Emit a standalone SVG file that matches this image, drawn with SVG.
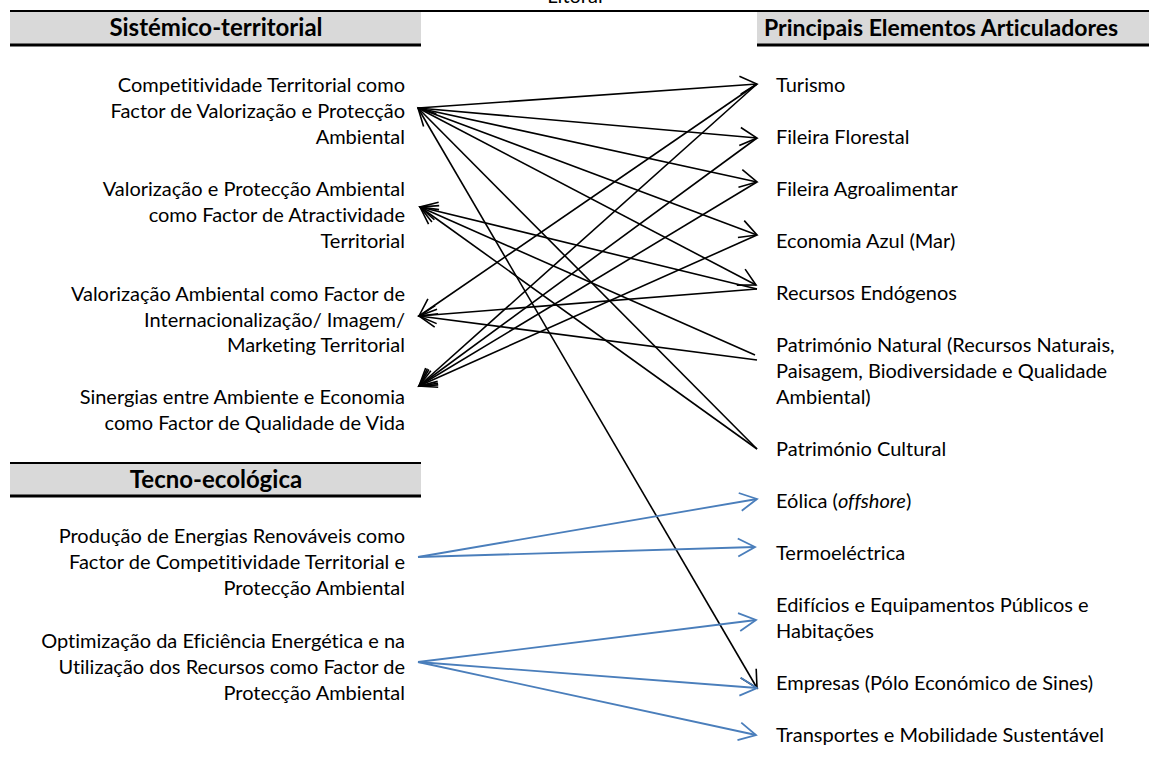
<svg xmlns="http://www.w3.org/2000/svg" width="1149" height="765" viewBox="0 0 1149 765">
<style>
  text { font-variant-ligatures: none; }
  .t { font-family: Lato, "Liberation Sans", sans-serif; font-size: 20px; fill: #000; }
  .l { text-anchor: end; }
  .h { font-family: Lato, "Liberation Sans", sans-serif; font-size: 24px; font-weight: bold; fill: #000; }
  .h2 { font-size: 23px; }
  .hbox { fill: #d9d9d9; }
  .hline { stroke: #000; stroke-width: 2; }
  .hline2 { stroke: #000; stroke-width: 3; }
  .k { stroke: #000; stroke-width: 1.6; fill: none; marker-end: url(#ak); }
  .b { stroke: #4a7ebb; stroke-width: 1.8; fill: none; marker-end: url(#ab); }
</style>
<defs>
  <marker id="ak" markerUnits="userSpaceOnUse" viewBox="-20 -11 22 22" markerWidth="22" markerHeight="22" refX="0" refY="0" orient="auto" overflow="visible">
    <path d="M-17,-9 L0,0 L-17,9" fill="none" stroke="#000" stroke-width="1.6"/>
  </marker>
  <marker id="ab" markerUnits="userSpaceOnUse" viewBox="-20 -11 22 22" markerWidth="22" markerHeight="22" refX="0" refY="0" orient="auto" overflow="visible">
    <path d="M-17,-9 L0,0 L-17,9" fill="none" stroke="#4a7ebb" stroke-width="1.8"/>
  </marker>
</defs>
<rect width="1149" height="765" fill="#fff"/>

<text class="t" x="575" y="3" text-anchor="middle">Litoral</text>
<line class="hline" x1="10" y1="11" x2="1149" y2="11"/>

<g id="header-sistemico">
  <rect class="hbox" x="10" y="12" width="411" height="33"/>
  <line class="hline2" x1="10" y1="45" x2="421" y2="45"/>
  <text class="h" x="216" y="36" text-anchor="middle">Sistémico-territorial</text>
</g>
<g id="header-principais">
  <rect class="hbox" x="757" y="12" width="392" height="33"/>
  <line class="hline2" x1="757" y1="45" x2="1149" y2="45"/>
  <text class="h h2" x="764" y="36">Principais Elementos Articuladores</text>
</g>
<g id="header-tecno">
  <rect class="hbox" x="10" y="463" width="411" height="33"/>
  <line class="hline" x1="10" y1="463" x2="421" y2="463"/>
  <line class="hline2" x1="10" y1="496" x2="421" y2="496"/>
  <text class="h" x="216" y="488" text-anchor="middle">Tecno-ecológica</text>
</g>

<g id="n-l1"><text class="t l" x="405" y="92">Competitividade Territorial como</text><text class="t l" x="405" y="118">Factor de Valorização e Protecção</text><text class="t l" x="405" y="144">Ambiental</text></g>
<g id="n-l2"><text class="t l" x="405" y="196">Valorização e Protecção Ambiental</text><text class="t l" x="405" y="222">como Factor de Atractividade</text><text class="t l" x="405" y="248">Territorial</text></g>
<g id="n-l3"><text class="t l" x="405" y="301">Valorização Ambiental como Factor de</text><text class="t l" x="405" y="327">Internacionalização/ Imagem/</text><text class="t l" x="405" y="352">Marketing Territorial</text></g>
<g id="n-l4"><text class="t l" x="405" y="404">Sinergias entre Ambiente e Economia</text><text class="t l" x="405" y="430">como Factor de Qualidade de Vida</text></g>
<g id="n-t1"><text class="t l" x="405" y="543">Produção de Energias Renováveis como</text><text class="t l" x="405" y="569">Factor de Competitividade Territorial e</text><text class="t l" x="405" y="595">Protecção Ambiental</text></g>
<g id="n-t2"><text class="t l" x="405" y="648">Optimização da Eficiência Energética e na</text><text class="t l" x="405" y="674">Utilização dos Recursos como Factor de</text><text class="t l" x="405" y="700">Protecção Ambiental</text></g>

<g id="n-turismo"><text class="t" x="776" y="92">Turismo</text></g>
<g id="n-florestal"><text class="t" x="776" y="144">Fileira Florestal</text></g>
<g id="n-agro"><text class="t" x="776" y="196">Fileira Agroalimentar</text></g>
<g id="n-azul"><text class="t" x="776" y="248">Economia Azul (Mar)</text></g>
<g id="n-recursos"><text class="t" x="776" y="300">Recursos Endógenos</text></g>
<g id="n-patnat"><text class="t" x="776" y="352">Património Natural (Recursos Naturais,</text><text class="t" x="776" y="378">Paisagem, Biodiversidade e Qualidade</text><text class="t" x="776" y="404">Ambiental)</text></g>
<g id="n-patcult"><text class="t" x="776" y="456">Património Cultural</text></g>
<g id="n-eolica"><text class="t" x="776" y="508">Eólica (<tspan font-style="italic">offshore</tspan>)</text></g>
<g id="n-termo"><text class="t" x="776" y="560">Termoeléctrica</text></g>
<g id="n-edificios"><text class="t" x="776" y="612">Edifícios e Equipamentos Públicos e</text><text class="t" x="776" y="638">Habitações</text></g>
<g id="n-empresas"><text class="t" x="776" y="690">Empresas (Pólo Económico de Sines)</text></g>
<g id="n-transportes"><text class="t" x="776" y="742">Transportes e Mobilidade Sustentável</text></g>

<g id="connectors">
  <line class="k" x1="418" y1="108" x2="757" y2="84"/>
  <line class="k" x1="418" y1="108" x2="757" y2="138"/>
  <line class="k" x1="418" y1="108" x2="757" y2="182"/>
  <line class="k" x1="418" y1="108" x2="757" y2="235"/>
  <line class="k" x1="418" y1="108" x2="756" y2="285"/>
  <line class="k" x1="418" y1="108" x2="757" y2="688"/>
  <line class="k" x1="757" y1="449" x2="418" y2="108"/>
  <line class="k" x1="757" y1="449" x2="420" y2="207"/>
  <line class="k" x1="757" y1="289" x2="420" y2="207"/>
  <line class="k" x1="757" y1="289" x2="419" y2="316"/>
  <line class="k" x1="755" y1="355" x2="420" y2="207"/>
  <line class="k" x1="757" y1="360" x2="419" y2="316"/>
  <line class="k" x1="757" y1="84" x2="419" y2="316"/>
  <line class="k" x1="757" y1="84" x2="419" y2="386"/>
  <line class="k" x1="757" y1="138" x2="419" y2="386"/>
  <line class="k" x1="757" y1="182" x2="419" y2="386"/>
  <line class="k" x1="757" y1="235" x2="419" y2="386"/>
  <line class="b" x1="418" y1="557" x2="757" y2="499"/>
  <line class="b" x1="418" y1="557" x2="755" y2="547"/>
  <line class="b" x1="418" y1="662" x2="756" y2="620"/>
  <line class="b" x1="418" y1="662" x2="757" y2="688"/>
  <line class="b" x1="418" y1="662" x2="756" y2="735"/>
</g>
</svg>
